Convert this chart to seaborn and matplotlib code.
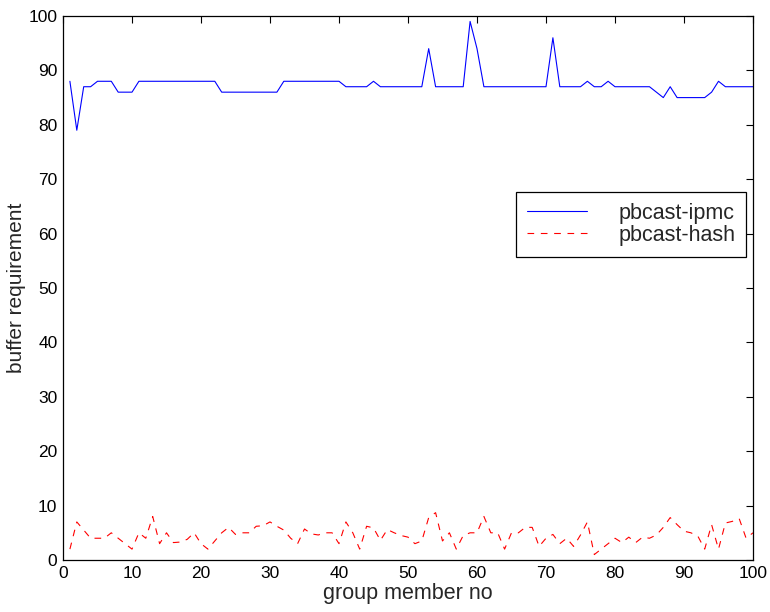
import numpy as np
import pandas as pd
import matplotlib
matplotlib.use("Agg")
import matplotlib.pyplot as plt
import seaborn as sns

members = list(range(1, 101))

ipmc = [88, 79, 87, 87, 88, 88, 88, 86, 86, 86,
        88, 88, 88, 88, 88, 88, 88, 88, 88, 88,
        88, 88, 86, 86, 86, 86, 86, 86, 86, 86,
        86, 88, 88, 88, 88, 88, 88, 88, 88, 88,
        87, 87, 87, 87, 88, 87, 87, 87, 87, 87,
        87, 87, 94, 87, 87, 87, 87, 87, 99, 94,
        87, 87, 87, 87, 87, 87, 87, 87, 87, 87,
        96, 87, 87, 87, 87, 88, 87, 87, 88, 87,
        87, 87, 87, 87, 87, 86, 85, 87, 85, 85,
        85, 85, 85, 86, 88, 87, 87, 87, 87, 87]

hashv = [2, 7, 5.5, 4, 4, 4, 5, 4, 3, 2,
         5, 4, 8, 3, 5, 3.2, 3.3, 3.8, 5, 3,
         2, 3.5, 5, 6, 4.7, 5, 5, 6.2, 6.3, 7,
         6.2, 5.5, 4, 3, 5.7, 4.8, 4.6, 5, 5, 3,
         7, 5, 2, 6.2, 5.9, 3.6, 5.6, 5, 4.5, 4.2,
         3, 3.5, 7.8, 8.7, 3.5, 5, 2, 4.5, 5, 5,
         8, 5, 5, 2, 5, 5, 6, 6, 2.5, 4,
         4.7, 3, 4, 2.5, 4.6, 7, 1, 2, 3, 4,
         3.2, 4.2, 3.2, 4.2, 4, 4.6, 6, 7.8, 6.5, 5.3,
         5, 4.4, 2, 6.5, 2, 6.8, 7.1, 7.6, 4, 5]

series_names = ["pbcast-ipmc", "pbcast-hash"]
xticks = [0, 10, 20, 30, 40, 50, 60, 70, 80, 90, 100]
yticks = [0, 10, 20, 30, 40, 50, 60, 70, 80, 90, 100]

sns.set_style("white")
plt.rcParams['font.family'] = ['Liberation Sans', 'DejaVu Sans']

df_ipmc = pd.DataFrame({"member": members, "value": ipmc})
df_hash = pd.DataFrame({"member": members, "value": hashv})

fig = plt.figure(figsize=(7.7, 6.12), dpi=100)
ax = fig.add_axes([63/770, 52/612, 690/770, 544/612])

sns.lineplot(data=df_ipmc, x="member", y="value", ax=ax, color=(0, 0, 1),
             linewidth=0.8, label=series_names[0])
sns.lineplot(data=df_hash, x="member", y="value", ax=ax, color=(1, 0, 0),
             linewidth=0.8, label=series_names[1])
ax.lines[1].set_dashes((6, 6))

ax.set_xlim(0, 100)
ax.set_ylim(0, 100)
ax.set_xticks(xticks)
ax.set_yticks(yticks)
ax.tick_params(direction="in", length=5, width=0.8, top=True, right=True,
               labelsize=12.5, colors="black", pad=4)
for s in ax.spines.values():
    s.set_visible(True)
    s.set_color("black")
    s.set_linewidth(0.9)

ax.set_xlabel("group member no", fontsize=15.5, labelpad=2)
ax.set_ylabel("buffer requirement", fontsize=15, labelpad=2)

leg = ax.legend(loc="upper left", bbox_to_anchor=((516-63)/690, (560-192)/544),
                fontsize=15.5, frameon=True, fancybox=False, shadow=False,
                handlelength=2.8, handletextpad=1.45, borderpad=0.5,
                labelspacing=0.05, borderaxespad=0)
leg.get_frame().set_edgecolor("black")
leg.get_frame().set_linewidth(0.9)
leg.get_frame().set_facecolor("white")
leg.get_frame().set_alpha(1)

fig.savefig("out.png", dpi=100)
